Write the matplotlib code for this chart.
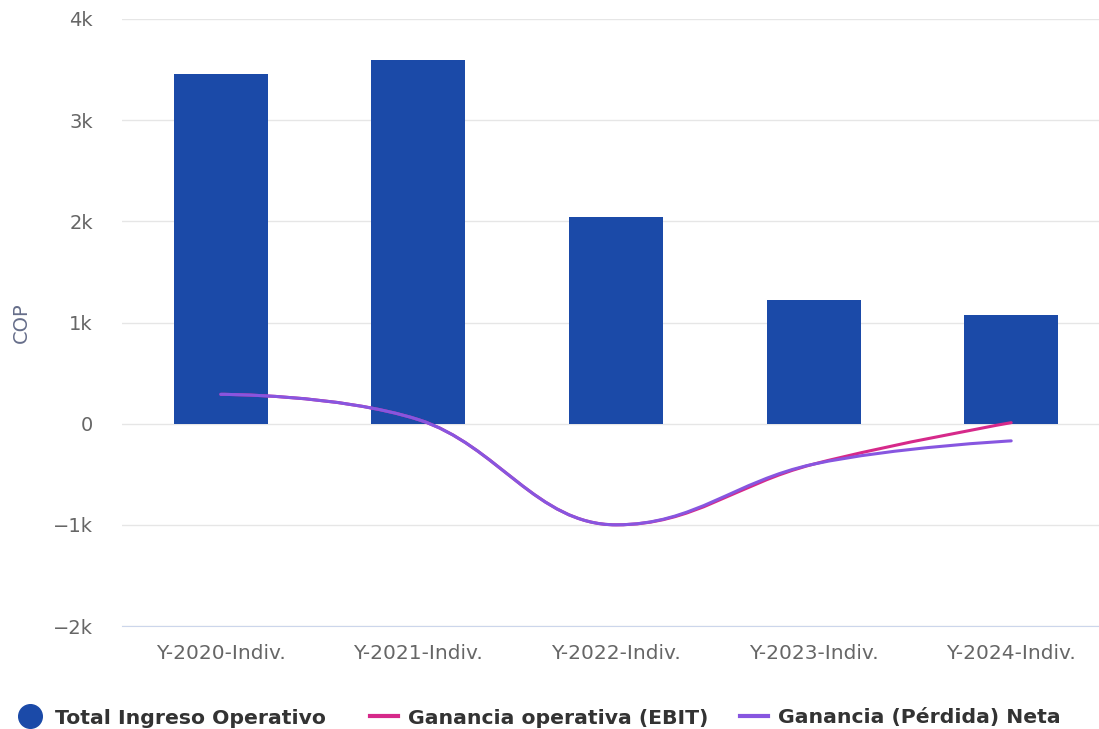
import numpy as np
import matplotlib
matplotlib.use("Agg")
import matplotlib.pyplot as plt
from matplotlib.path import Path
from matplotlib.patches import PathPatch
from matplotlib.lines import Line2D

categories = ["Y-2020-Indiv.", "Y-2021-Indiv.", "Y-2022-Indiv.", "Y-2023-Indiv.", "Y-2024-Indiv."]
ingreso = [3460, 3590, 2040, 1225, 1070]
ebit = [290, 40, -1000, -400, 10]
neta = [290, 40, -1000, -400, -170]
yticks = [-2000, -1000, 0, 1000, 2000, 3000, 4000]
ytick_labels = ["−2k", "−1k", "0", "1k", "2k", "3k", "4k"]
legend_labels = ["Total Ingreso Operativo", "Ganancia operativa (EBIT)", "Ganancia (Pérdida) Neta"]

C_BAR = "#1b4aa8"
C_EBIT = "#d6298a"
C_NETA = "#8756e0"

W, H = 1099, 729


def spline_path(xs, ys, smoothing=1.5):
    n = len(xs)
    denom = smoothing + 1
    left = [None] * n
    right = [None] * n
    for i in range(n):
        px, py = xs[i], ys[i]
        if i == 0 or i == n - 1:
            left[i] = (px, py)
            right[i] = (px, py)
            continue
        lx, ly = xs[i - 1], ys[i - 1]
        nx, ny = xs[i + 1], ys[i + 1]
        lcx = (smoothing * px + lx) / denom
        lcy = (smoothing * py + ly) / denom
        rcx = (smoothing * px + nx) / denom
        rcy = (smoothing * py + ny) / denom
        corr = 0
        if rcx != lcx:
            corr = (rcy - lcy) * (rcx - px) / (rcx - lcx) + py - rcy
        lcy += corr
        rcy += corr
        if lcy > ly and lcy > py:
            lcy = max(ly, py); rcy = 2 * py - lcy
        elif lcy < ly and lcy < py:
            lcy = min(ly, py); rcy = 2 * py - lcy
        if rcy > ny and rcy > py:
            rcy = max(ny, py); lcy = 2 * py - rcy
        elif rcy < ny and rcy < py:
            rcy = min(ny, py); lcy = 2 * py - rcy
        left[i] = (lcx, lcy)
        right[i] = (rcx, rcy)
    verts = [(xs[0], ys[0])]
    codes = [Path.MOVETO]
    for i in range(1, n):
        verts += [right[i - 1], left[i], (xs[i], ys[i])]
        codes += [Path.CURVE4] * 3
    return Path(verts, codes)


fig = plt.figure(figsize=(W / 100, H / 100), dpi=100)
ax = fig.add_axes([122 / W, (H - 626) / H, (1110 - 122) / W, 607 / H])

x = np.arange(len(categories))
ax.bar(x, ingreso, width=0.475, color=C_BAR, zorder=2)

for vals, col, z in [(ebit, C_EBIT, 3), (neta, C_NETA, 4)]:
    p = spline_path(list(x.astype(float)), list(map(float, vals)))
    ax.add_patch(PathPatch(p, facecolor="none", edgecolor=col, lw=2.2, zorder=z,
                           capstyle="round", joinstyle="round"))

ax.set_xlim(-0.5, len(categories) - 0.5)
ax.set_ylim(-2000, 4000)
ax.set_yticks(yticks)
ax.set_yticklabels(ytick_labels)
ax.set_xticks(x)
ax.set_xticklabels(categories)
ax.grid(axis="y", color="#e6e6e6", lw=1, zorder=0)
ax.set_axisbelow(True)
for s in ["top", "right", "left"]:
    ax.spines[s].set_visible(False)
ax.spines["bottom"].set_color("#ccd6eb")
ax.tick_params(axis="y", length=0, labelsize=14, labelcolor="#666666", pad=21)
ax.tick_params(axis="x", length=0, labelsize=14.5, labelcolor="#666666", pad=13)
ax.set_ylabel("COP", fontsize=14, color="#666e8a", labelpad=16)

# legend (manual placement in figure pixels)
ly = (H - 716) / H
fig.add_artist(Line2D([30 / W], [ly], marker="o", ls="none", markersize=17, color=C_BAR))
fig.add_artist(Line2D([370 / W, 398 / W], [ly, ly], color=C_EBIT, lw=3))
fig.add_artist(Line2D([740 / W, 768 / W], [ly, ly], color=C_NETA, lw=3))
for xp, lab in zip([55, 408, 778], legend_labels):
    fig.text(xp / W, ly, lab, ha="left", va="center_baseline", fontsize=14.7,
             fontweight="bold", color="#333333")

fig.savefig("out.png", dpi=100)
